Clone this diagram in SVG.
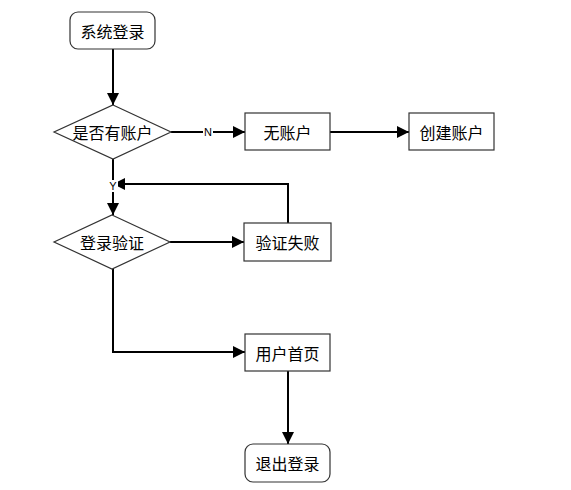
<svg xmlns="http://www.w3.org/2000/svg" width="571" height="490" viewBox="0 0 571 490">
<style>
.box{fill:#fff;stroke:#333;stroke-width:1.2}
.t{font-family:"Noto Sans CJK SC",sans-serif;font-size:16px;fill:#000;text-anchor:middle;dominant-baseline:central}
.lb{font-family:"Liberation Sans",Arial,sans-serif;font-size:11px;fill:#000;text-anchor:middle;dominant-baseline:central}
.ln{fill:none;stroke:#000;stroke-width:2}
</style>
<defs>
<marker id="ah" viewBox="0 0 12 12" refX="12" refY="6" markerWidth="12" markerHeight="12" markerUnits="userSpaceOnUse" orient="auto">
<path d="M0,0 L12,6 L0,12 Z" fill="#000"/>
</marker>
</defs>
<rect width="571" height="490" fill="#fff"/>
<g id="connectors">
<path class="ln" d="M113,49 V105" marker-end="url(#ah)"/>
<path class="ln" d="M171,132 H245" marker-end="url(#ah)"/>
<path class="ln" d="M330,132 H409" marker-end="url(#ah)"/>
<path class="ln" d="M113,159 V215" marker-end="url(#ah)"/>
<path class="ln" d="M170,242 H244" marker-end="url(#ah)"/>
<path class="ln" d="M288,223 V184 H113" marker-end="url(#ah)"/>
<path class="ln" d="M113,269 V352 H245" marker-end="url(#ah)"/>
<path class="ln" d="M288,371 V444" marker-end="url(#ah)"/>
<rect x="203" y="126" width="10" height="12" fill="#fff"/>
<text class="lb" x="208" y="132">N</text>
<rect x="108" y="180" width="10" height="12" fill="#fff"/>
<text class="lb" x="113" y="186">Y</text>
</g>
<g id="n1"><rect class="box" x="70" y="12" width="85" height="37" rx="8"/><text class="t" x="112.5" y="30.5">系统登录</text></g>
<g id="n2"><polygon class="box" points="113,105 171,132 113,159 54,132"/><text class="t" x="112.5" y="132">是否有账户</text></g>
<g id="n3"><rect class="box" x="245" y="113" width="85" height="37"/><text class="t" x="287.5" y="131.5">无账户</text></g>
<g id="n4"><rect class="box" x="409" y="113" width="85" height="37"/><text class="t" x="451.5" y="131.5">创建账户</text></g>
<g id="n5"><polygon class="box" points="112,215 170,242 112,269 54,242"/><text class="t" x="112" y="242">登录验证</text></g>
<g id="n6"><rect class="box" x="244" y="223" width="87" height="38"/><text class="t" x="287.5" y="242">验证失败</text></g>
<g id="n7"><rect class="box" x="245" y="334" width="85" height="37"/><text class="t" x="287.5" y="352.5">用户首页</text></g>
<g id="n8"><rect class="box" x="245" y="444" width="85" height="38" rx="8"/><text class="t" x="287.5" y="463">退出登录</text></g>
</svg>
